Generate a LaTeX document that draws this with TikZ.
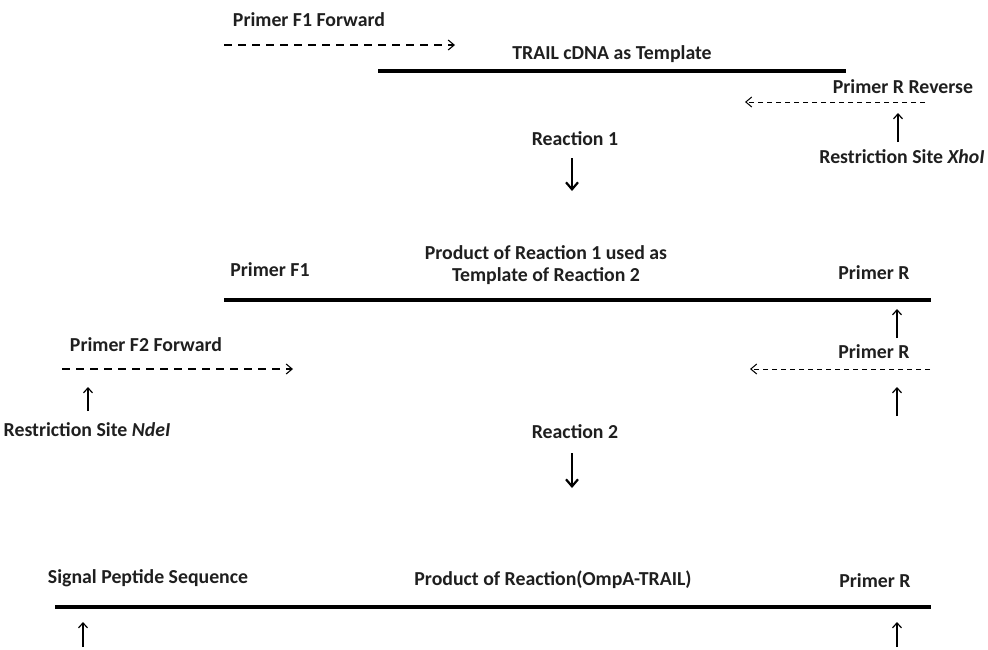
\documentclass[tikz,border=0pt]{standalone}
\usepackage{fontspec}
\setmainfont{Carlito}
\usetikzlibrary{arrows.meta}
\begin{document}
\begin{tikzpicture}[x=1pt,y=-1pt,
  lbl/.style={inner sep=0pt,font=\fontsize{19.8}{22.5}\selectfont\bfseries,text=black!88},
  strand/.style={line width=3.2pt},
  fwd/.style={line width=1.1pt,dash pattern=on 8pt off 6pt,-{Straight Barb[length=6pt,width=10pt,line width=1.1pt]}},
  rev/.style={line width=0.9pt,dash pattern=on 5pt off 4pt,-{Straight Barb[length=6pt,width=10pt,line width=1pt]}},
  uparr/.style={line width=1.2pt,-{Straight Barb[length=5pt,width=9pt,line width=1.2pt]}},
  downarr/.style={line width=2.2pt,-{Straight Barb[length=7pt,width=12pt,line width=2.2pt]}}]
\useasboundingbox (0,0) rectangle (988,649);
% Top section
\node[lbl] (pf1) at (309,20) {Primer F1 Forward};
\coordinate (f1s) at (224,45); \coordinate (f1e) at (455,45);
\draw[fwd] (f1s) -- (f1e);
\node[lbl] (trail) at (612,54) {TRAIL cDNA as Template};
\coordinate (t1s) at (378,71); \coordinate (t1e) at (846,71);
\draw[strand] (t1s) -- (t1e);
\node[lbl] (prr) at (903,87) {Primer R Reverse};
\coordinate (r1s) at (925,102); \coordinate (r1e) at (745,102);
\draw[rev] (r1s) -- (r1e);
\coordinate (u1s) at (898,142); \coordinate (u1e) at (898,113);
\draw[uparr] (u1s) -- (u1e);
\node[lbl] (xho) at (902,157) {Restriction Site \textit{XhoI}};
\node[lbl] (re1) at (575,139) {Reaction 1};
\coordinate (d1s) at (572,158); \coordinate (d1e) at (572,191);
\draw[downarr] (d1s) -- (d1e);
% Middle section
\node[lbl,align=center] (prod1) at (546,265) {Product of Reaction 1 used as\\Template of Reaction 2};
\node[lbl] (pf1b) at (270,270) {Primer F1};
\node[lbl] (prb) at (874,273) {Primer R};
\coordinate (t2s) at (224,300); \coordinate (t2e) at (931,300);
\draw[strand] (t2s) -- (t2e);
\coordinate (u2s) at (897,338); \coordinate (u2e) at (897,309);
\draw[uparr] (u2s) -- (u2e);
\node[lbl] (pf2) at (146,345) {Primer F2 Forward};
\node[lbl] (prc) at (874,352) {Primer R};
\coordinate (f2s) at (62,369); \coordinate (f2e) at (293,369);
\draw[fwd] (f2s) -- (f2e);
\coordinate (r2s) at (930,369); \coordinate (r2e) at (750,369);
\draw[rev] (r2s) -- (r2e);
\coordinate (u3s) at (88,411); \coordinate (u3e) at (88,387);
\draw[uparr] (u3s) -- (u3e);
\coordinate (u4s) at (897,416); \coordinate (u4e) at (897,387);
\draw[uparr] (u4s) -- (u4e);
\node[lbl] (nde) at (87,430) {Restriction Site \textit{NdeI}};
\node[lbl] (re2) at (575,432) {Reaction 2};
\coordinate (d2s) at (572,453); \coordinate (d2e) at (572,488);
\draw[downarr] (d2s) -- (d2e);
% Bottom section
\node[lbl] (sig) at (148,578) {Signal Peptide Sequence};
\node[lbl] (prod2) at (553,580) {Product of Reaction(OmpA-TRAIL)};
\node[lbl] (prd) at (875,581) {Primer R};
\coordinate (t3s) at (55,607); \coordinate (t3e) at (931,607);
\draw[strand] (t3s) -- (t3e);
\coordinate (u5s) at (83,647); \coordinate (u5e) at (83,622);
\draw[uparr] (u5s) -- (u5e);
\coordinate (u6s) at (897,647); \coordinate (u6e) at (897,622);
\draw[uparr] (u6s) -- (u6e);
\end{tikzpicture}
\end{document}
